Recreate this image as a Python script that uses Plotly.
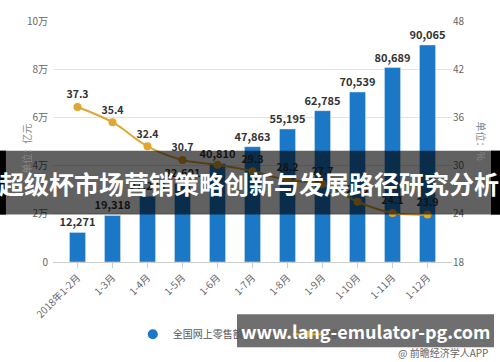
import plotly.graph_objects as go

categories = ["2018年1-2月", "1-3月", "1-4月", "1-5月", "1-6月", "1-7月",
              "1-8月", "1-9月", "1-10月", "1-11月", "1-12月"]
sales = [12271, 19318, 27279, 32601, 40810, 47863, 55195, 62785, 70539, 80689, 90065]
growth = [37.3, 35.4, 32.4, 30.7, 30.1, 29.3, 28.2, 27.7, 25.5, 24.1, 23.9]
growth_labels = ["37.3", "35.4", "32.4", "30.7", "", "29.3", "28.2", "27.7", "25.5", "24.1", "23.9"]
left_ticks = [0, 20000, 40000, 60000, 80000, 100000]
left_tick_text = ["0", "2万", "4万", "6万", "8万", "10万"]
right_ticks = [18, 24, 30, 36, 42, 48]

FONT = "Noto Sans CJK SC"
BLUE = "#1a78c6"
GOLD = "#dfa630"

fig = go.Figure()
fig.add_trace(go.Bar(
    x=categories, y=sales, marker_color=BLUE, width=0.46,
    text=[f"{v:,}" for v in sales], textposition="outside", constraintext="none",
    textfont=dict(size=11, color="#333333", family=FONT, weight="bold"),
    cliponaxis=False, showlegend=False, yaxis="y"))
fig.add_trace(go.Scatter(
    x=categories, y=growth, mode="lines+markers+text", yaxis="y2",
    line=dict(color=GOLD, width=2, shape="spline"),
    marker=dict(color=GOLD, size=8),
    text=growth_labels, textposition="top center",
    textfont=dict(size=10.5, color="#333333", family=FONT, weight="bold"),
    cliponaxis=False, showlegend=False))
# legend entries
fig.add_trace(go.Scatter(x=[None], y=[None], mode="markers", name="全国网上零售额（亿元）",
                         marker=dict(color=BLUE, size=10, symbol="circle")))
fig.add_trace(go.Scatter(x=[None], y=[None], mode="lines+markers", name="增速（%）",
                         line=dict(color=GOLD, width=2), marker=dict(color=GOLD, size=7),
                         yaxis="y2"))

fig.update_layout(
    width=500, height=362,
    margin=dict(l=53, r=48, t=13, b=100),
    paper_bgcolor="white", plot_bgcolor="white",
    font=dict(family=FONT, size=10, color="#666666"),
    xaxis=dict(type="category", range=[-0.7, 10.7], tickangle=-45,
               tickfont=dict(size=10, color="#666666"),
               showline=True, linecolor="#cccccc", ticks="outside", ticklen=5,
               tickcolor="#cccccc", showgrid=False),
    yaxis=dict(range=[0, 100000], tickvals=left_ticks, ticktext=left_tick_text,
               showgrid=True, gridcolor="#e3e3e3", zeroline=False,
               tickfont=dict(size=10, color="#666666"), ticks="", ticklabelstandoff=4),
    yaxis2=dict(range=[18, 48], tickvals=right_ticks, overlaying="y", side="right",
                showgrid=False, zeroline=False, tickfont=dict(size=10, color="#666666")),
    legend=dict(orientation="h", x=0.2, y=-0.30, xanchor="left", yanchor="middle",
                font=dict(size=10, color="#555555"), itemwidth=30, bgcolor="rgba(0,0,0,0)"),
)

fig.add_annotation(text="单位：亿元", textangle=-90, xref="paper", yref="paper",
                   x=(27 - 53) / 399, y=0.47, xanchor="center", yanchor="middle", showarrow=False,
                   font=dict(size=10, color="#888888"))
fig.add_annotation(text="单位：%", textangle=90, xref="paper", yref="paper",
                   x=1.075, y=0.50, xanchor="center", yanchor="middle", showarrow=False,
                   font=dict(size=10, color="#888888"))

# overlay banner
fig.add_shape(type="rect", xref="paper", yref="paper", layer="above",
              x0=-0.133, x1=1.121, y0=(262 - 213) / 249, y1=(262 - 147) / 249,
              fillcolor="rgba(0,0,0,0.62)", line_width=0)
fig.add_shape(type="rect", xref="paper", yref="paper", layer="above",
              x0=-0.133, x1=-0.118, y0=(262 - 213) / 249, y1=(262 - 147) / 249,
              fillcolor="black", line_width=0)
fig.add_shape(type="rect", xref="paper", yref="paper", layer="above",
              x0=(491 - 53) / 399, x1=1.121, y0=(262 - 213) / 249, y1=(262 - 147) / 249,
              fillcolor="black", line_width=0)
fig.add_annotation(text="<b>超级杯市场营销策略创新与发展路径研究分析</b>", xref="paper", yref="paper",
                   x=(249 - 53) / 399, y=(262 - 180) / 249, xanchor="center", yanchor="middle",
                   showarrow=False, font=dict(size=25, color="white", family=FONT))
# url box
fig.add_shape(type="rect", xref="paper", yref="paper", layer="above",
              x0=(237 - 53) / 399, x1=(494 - 53) / 399, y0=(262 - 350) / 249, y1=(262 - 316) / 249,
              fillcolor="rgba(70,70,70,0.78)", line_width=0)
fig.add_annotation(text="<b>www.lang-emulator-pg.com</b>", xref="paper", yref="paper",
                   x=(365 - 53) / 399, y=(262 - 333) / 249, xanchor="center", yanchor="middle",
                   showarrow=False, font=dict(size=18, color="white", family=FONT))
fig.add_annotation(text="@ 前瞻经济学人APP", xref="paper", yref="paper",
                   x=(490 - 53) / 399, y=(262 - 355) / 249, xanchor="right", yanchor="middle",
                   showarrow=False, font=dict(size=10, color="#666666"))

fig.write_html("out.html")
